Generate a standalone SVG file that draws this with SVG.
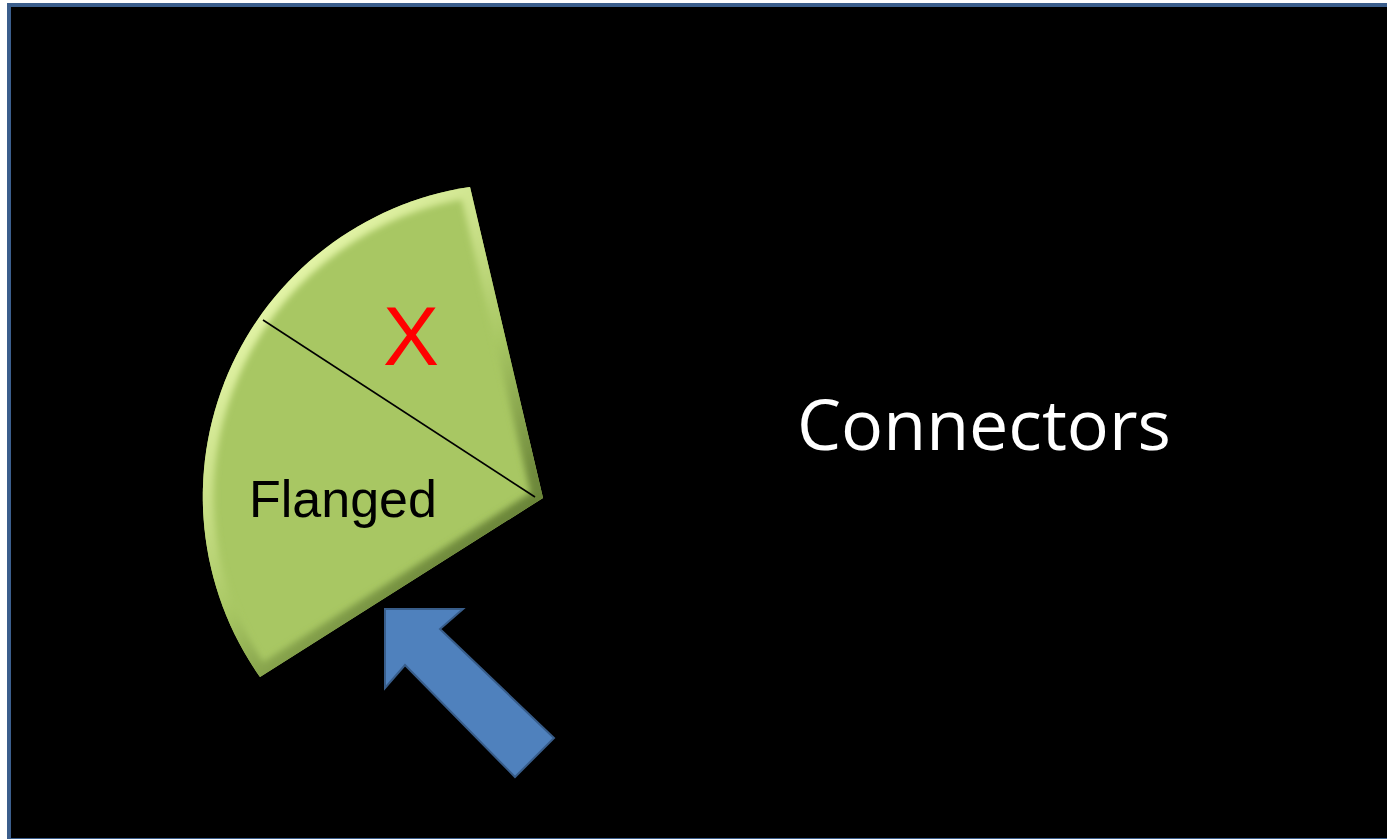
<svg xmlns="http://www.w3.org/2000/svg" width="1387" height="839" viewBox="0 0 1387 839">
  <style>
    .lbl { font-family: "Liberation Sans", Arial, sans-serif; }
    .title { font-family: "Open Sans", "Liberation Sans", sans-serif; fill: #ffffff; }
  </style>
  <defs>
    <path id="sector" d="M543,498 L470,187 A313,313 0 0 0 260,677 Z"/>
    <clipPath id="secClip"><use href="#sector"/></clipPath>
    <linearGradient id="bevel" gradientUnits="userSpaceOnUse" x1="280" y1="280" x2="560" y2="560">
      <stop offset="0" stop-color="#e4f5a8"/>
      <stop offset="0.3" stop-color="#c4dc82"/>
      <stop offset="0.5" stop-color="#a8c763"/>
      <stop offset="0.8" stop-color="#6f8a3c"/>
      <stop offset="1" stop-color="#5f7830"/>
    </linearGradient>
    <filter id="soft" x="-10%" y="-10%" width="120%" height="120%">
      <feGaussianBlur stdDeviation="3"/>
    </filter>
  </defs>

  <!-- frame and background -->
  <rect x="0" y="0" width="1387" height="839" fill="#ffffff"/>
  <rect x="7" y="3" width="1380" height="836" fill="#3b5e8c"/>
  <rect x="11" y="7" width="1376" height="831" fill="#000000"/>

  <!-- green sector node -->
  <g id="flanged-sector">
    <use href="#sector" fill="#a8c763"/>
    <g clip-path="url(#secClip)">
      <use href="#sector" fill="none" stroke="url(#bevel)" stroke-width="22" stroke-linejoin="round" filter="url(#soft)"/>
    </g>
    <line x1="263" y1="320" x2="535" y2="497" stroke="#000000" stroke-width="1.6"/>
    <text class="lbl" x="411" y="365" font-size="84" fill="#ff0000" text-anchor="middle">X</text>
    <text class="lbl" x="249" y="517" font-size="52" fill="#000000">Flanged</text>
  </g>

  <!-- blue arrow -->
  <g id="connectors">
    <polygon id="arrow" points="385,609 463,609 440,629 554,738 515,777 405,665 385,688" fill="#4f81bd" stroke="#385d8a" stroke-width="2" stroke-linejoin="miter"/>
  </g>

  <!-- title -->
  <g id="title-node">
    <text class="title" x="797" y="450" font-size="70">Connectors</text>
  </g>
</svg>
